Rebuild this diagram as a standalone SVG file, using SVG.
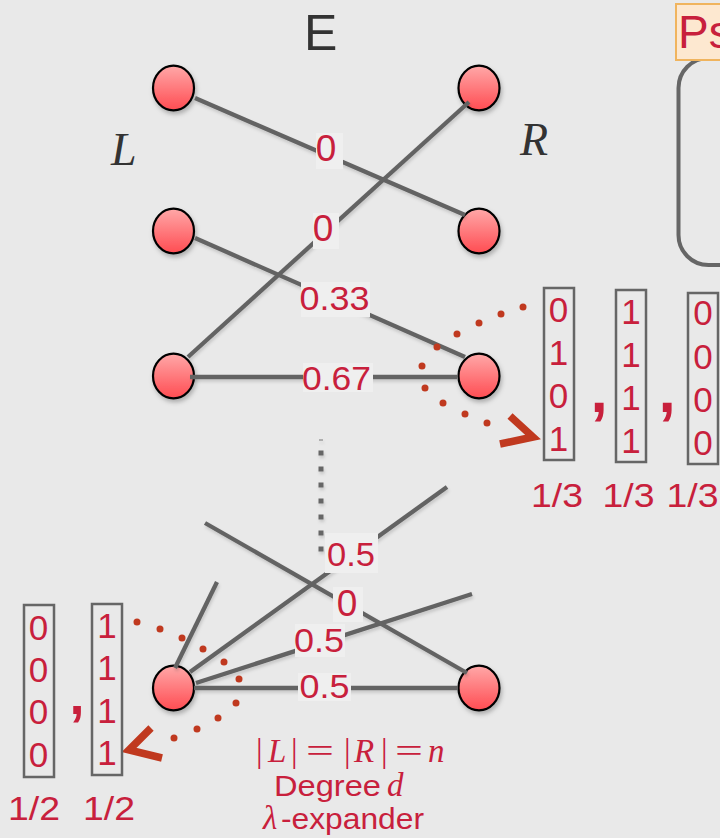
<svg xmlns="http://www.w3.org/2000/svg" width="720" height="838" viewBox="0 0 720 838">
  <defs>
    <linearGradient id="nodeFill" x1="0" y1="0" x2="0" y2="1">
      <stop offset="0" stop-color="#ffa8a8"/>
      <stop offset="1" stop-color="#ff4c52"/>
    </linearGradient>
    <filter id="soft" x="-30%" y="-30%" width="160%" height="160%">
      <feDropShadow dx="1.5" dy="3" stdDeviation="2" flood-color="#000" flood-opacity="0.25"/>
    </filter>
    <filter id="lineShade" x="-10%" y="-10%" width="120%" height="120%">
      <feDropShadow dx="1" dy="2.5" stdDeviation="1.8" flood-color="#000" flood-opacity="0.15"/>
    </filter>
  </defs>
  <style>
    .node { fill: url(#nodeFill); stroke: #000; stroke-width: 2.2; }
    .edge { stroke: #636363; stroke-width: 4.3; fill: none; stroke-linecap: butt; }
    .lblbg { fill: #efefef; }
    .red { fill: #c8203c; font-family: "Liberation Sans", Arial, sans-serif; }
    .lbl { font-size: 33px; text-anchor: middle; }
    .zero { font-size: 37px; text-anchor: middle; }
    .digit { font-size: 35px; text-anchor: middle; }
    .vbox { fill: none; stroke: #666; stroke-width: 2.5; }
    .comma { font-family: "Liberation Sans", Arial, sans-serif; font-weight: bold; fill: #c8203c; text-anchor: middle; }
    .dot { fill: #c0391f; }
    .chev { fill: none; stroke: #c0391f; stroke-width: 7.5; stroke-linejoin: miter; }
    .serif { font-family: "Liberation Serif", "Times New Roman", serif; font-style: italic; }
  </style>

  <rect x="0" y="0" width="720" height="838" fill="#e9e9e9"/>

  <!-- side panel: rounded frame with its title tab -->
  <g id="panel">
    <rect x="678.5" y="58" width="140" height="207" rx="30" fill="none" stroke="#666" stroke-width="4"/>
    <rect x="676" y="4" width="60" height="56" fill="#fde8d0" stroke="#f0b45e" stroke-width="2"/>
    <text x="678" y="48" font-size="46" class="red">Ps</text>
  </g>

  <!-- headings -->
  <text x="304" y="50" font-size="50" font-family="Liberation Sans, Arial, sans-serif" fill="#333">E</text>
  <text x="111" y="165" font-size="46" class="serif" fill="#333">L</text>
  <text x="520" y="155" font-size="46" class="serif" fill="#333">R</text>

  <!-- vertices -->
  <g filter="url(#soft)">
    <g id="nodeL1"><ellipse class="node" cx="173.5" cy="88" rx="20.5" ry="22.3"/></g>
    <g id="nodeL2"><ellipse class="node" cx="173.5" cy="231" rx="20.5" ry="22.3"/></g>
    <g id="nodeL3"><ellipse class="node" cx="173.5" cy="376" rx="20.5" ry="22.3"/></g>
    <g id="nodeR1"><ellipse class="node" cx="479" cy="88" rx="20.5" ry="22.3"/></g>
    <g id="nodeR2"><ellipse class="node" cx="479" cy="231" rx="20.5" ry="22.3"/></g>
    <g id="nodeR3"><ellipse class="node" cx="479" cy="376" rx="20.5" ry="22.3"/></g>
    <g id="nodeLn"><ellipse class="node" cx="173.5" cy="688" rx="20.5" ry="22.3"/></g>
    <g id="nodeRn"><ellipse class="node" cx="479" cy="688" rx="20.5" ry="22.3"/></g>
  </g>

  <!-- edges -->
  <g id="connectors" filter="url(#lineShade)">
    <line class="edge" x1="195" y1="98" x2="465" y2="215"/>
    <line class="edge" x1="188" y1="357" x2="469" y2="102"/>
    <line class="edge" x1="195" y1="238" x2="465" y2="357"/>
    <line class="edge" x1="190" y1="377" x2="457" y2="377"/>
    <line class="edge" x1="175" y1="668" x2="217" y2="582"/>
    <line class="edge" x1="190" y1="672" x2="447" y2="487"/>
    <line class="edge" x1="196" y1="683" x2="472" y2="594"/>
    <line class="edge" x1="194" y1="688" x2="458" y2="688"/>
    <line class="edge" x1="205" y1="523" x2="467" y2="673"/>
    <!-- vertical ellipsis between the two groups of vertices -->
    <line x1="321" y1="439.5" x2="321" y2="440.5" stroke="#777" stroke-width="4"/>
    <line x1="321" y1="450.5" x2="321" y2="552" stroke="#666" stroke-width="5" stroke-dasharray="5 11"/>
  </g>

  <!-- edge weights -->
  <g id="weights">
    <rect class="lblbg" x="316" y="133" width="27" height="36"/>
    <text class="red zero" x="326" y="161">0</text>
    <rect class="lblbg" x="313" y="213" width="26" height="36"/>
    <text class="red zero" x="323" y="241">0</text>
    <rect class="lblbg" x="301" y="282" width="69" height="35"/>
    <text class="red lbl" x="334.5" y="310" textLength="70" lengthAdjust="spacingAndGlyphs">0.33</text>
    <rect class="lblbg" x="303" y="363" width="70" height="29"/>
    <text class="red lbl" x="336.5" y="390" textLength="69" lengthAdjust="spacingAndGlyphs">0.67</text>

    <rect class="lblbg" x="325" y="533" width="53" height="40"/>
    <text class="red lbl" x="351" y="566" textLength="48" lengthAdjust="spacingAndGlyphs">0.5</text>
    <rect class="lblbg" x="333" y="587" width="30" height="35"/>
    <text class="red zero" x="347" y="616">0</text>
    <rect class="lblbg" x="295" y="624" width="50" height="33"/>
    <text class="red lbl" x="319" y="652" textLength="50" lengthAdjust="spacingAndGlyphs">0.5</text>
    <rect class="lblbg" x="298" y="673" width="53" height="28"/>
    <text class="red lbl" x="324.5" y="698" textLength="50" lengthAdjust="spacingAndGlyphs">0.5</text>
  </g>

  <!-- neighbourhood of the right vertex: dotted arc and arrow -->
  <g id="arcTop">
    <circle class="dot" cx="523" cy="307" r="3.5"/>
    <circle class="dot" cx="501" cy="314" r="3.5"/>
    <circle class="dot" cx="479" cy="323" r="3.5"/>
    <circle class="dot" cx="457" cy="334" r="3.5"/>
    <circle class="dot" cx="437" cy="347" r="3.5"/>
    <circle class="dot" cx="422" cy="366" r="3.5"/>
    <circle class="dot" cx="425" cy="388" r="3.5"/>
    <circle class="dot" cx="443" cy="403" r="3.5"/>
    <circle class="dot" cx="465" cy="414" r="3.5"/>
    <circle class="dot" cx="487" cy="423" r="3.5"/>
    <polyline class="chev" points="510,416 533,437 500,444"/>
  </g>

  <!-- edge vectors with weights 1/3 -->
  <g id="vectorsTop">
    <rect class="vbox" x="544" y="288" width="30" height="172"/>
    <text class="red digit" x="558.5" y="322">0</text>
    <text class="red digit" x="558.5" y="365">1</text>
    <text class="red digit" x="558.5" y="408">0</text>
    <text class="red digit" x="558.5" y="451">1</text>
    <text class="comma" x="599" y="412" font-size="62">,</text>
    <rect class="vbox" x="616" y="290" width="30" height="172"/>
    <text class="red digit" x="631" y="324">1</text>
    <text class="red digit" x="631" y="367">1</text>
    <text class="red digit" x="631" y="410">1</text>
    <text class="red digit" x="631" y="453">1</text>
    <text class="comma" x="667" y="412" font-size="62">,</text>
    <rect class="vbox" x="688" y="293" width="30" height="171"/>
    <text class="red digit" x="703" y="325">0</text>
    <text class="red digit" x="703" y="369">0</text>
    <text class="red digit" x="703" y="412">0</text>
    <text class="red digit" x="703" y="455">0</text>
    <text class="red lbl" x="557" y="507" textLength="52" lengthAdjust="spacingAndGlyphs">1/3</text>
    <text class="red lbl" x="628.5" y="507" textLength="52" lengthAdjust="spacingAndGlyphs">1/3</text>
    <text class="red lbl" x="692.5" y="507" textLength="52" lengthAdjust="spacingAndGlyphs">1/3</text>
  </g>

  <!-- neighbourhood of the bottom-left vertex -->
  <g id="arcBottom">
    <circle class="dot" cx="137" cy="622" r="3.5"/>
    <circle class="dot" cx="160" cy="629" r="3.5"/>
    <circle class="dot" cx="182" cy="638" r="3.5"/>
    <circle class="dot" cx="203" cy="649" r="3.5"/>
    <circle class="dot" cx="224" cy="662" r="3.5"/>
    <circle class="dot" cx="239" cy="679" r="3.5"/>
    <circle class="dot" cx="236" cy="703" r="3.5"/>
    <circle class="dot" cx="218" cy="718" r="3.5"/>
    <circle class="dot" cx="197" cy="729" r="3.5"/>
    <circle class="dot" cx="174" cy="738" r="3.5"/>
    <polyline class="chev" points="151,728 129,750 162,758"/>
  </g>

  <!-- edge vectors with weights 1/2 -->
  <g id="vectorsBottom">
    <rect class="vbox" x="24" y="605" width="30" height="172"/>
    <text class="red digit" x="38.5" y="640">0</text>
    <text class="red digit" x="38.5" y="682">0</text>
    <text class="red digit" x="38.5" y="724">0</text>
    <text class="red digit" x="38.5" y="767">0</text>
    <text class="comma" x="77" y="714" font-size="54">,</text>
    <rect class="vbox" x="92" y="604" width="30" height="171"/>
    <text class="red digit" x="107" y="638">1</text>
    <text class="red digit" x="107" y="680">1</text>
    <text class="red digit" x="107" y="723">1</text>
    <text class="red digit" x="107" y="765">1</text>
    <text class="red lbl" x="34" y="820" textLength="52" lengthAdjust="spacingAndGlyphs">1/2</text>
    <text class="red lbl" x="109" y="820" textLength="52" lengthAdjust="spacingAndGlyphs">1/2</text>
  </g>

  <!-- graph parameters -->
  <g id="caption" fill="#c8203c">
    <text y="762" font-size="33" font-family="Liberation Serif, Times New Roman, serif"><tspan x="256">|</tspan><tspan x="268" font-style="italic">L</tspan><tspan x="291">|</tspan><tspan x="306" textLength="28" lengthAdjust="spacingAndGlyphs">=</tspan><tspan x="344">|</tspan><tspan x="354" font-style="italic">R</tspan><tspan x="381">|</tspan><tspan x="395" textLength="28" lengthAdjust="spacingAndGlyphs">=</tspan><tspan x="428" font-style="italic">n</tspan></text>
    <text y="796" font-size="30" font-family="Liberation Sans, Arial, sans-serif"><tspan x="274" textLength="107" lengthAdjust="spacingAndGlyphs">Degree</tspan><tspan x="387" font-size="33" font-style="italic" font-family="Liberation Serif, Times New Roman, serif">d</tspan></text>
    <text y="829" font-size="30" font-family="Liberation Sans, Arial, sans-serif"><tspan x="263" font-size="33" font-style="italic" font-family="Liberation Serif, Times New Roman, serif">λ</tspan><tspan x="281" textLength="143" lengthAdjust="spacingAndGlyphs">-expander</tspan></text>
  </g>
</svg>
